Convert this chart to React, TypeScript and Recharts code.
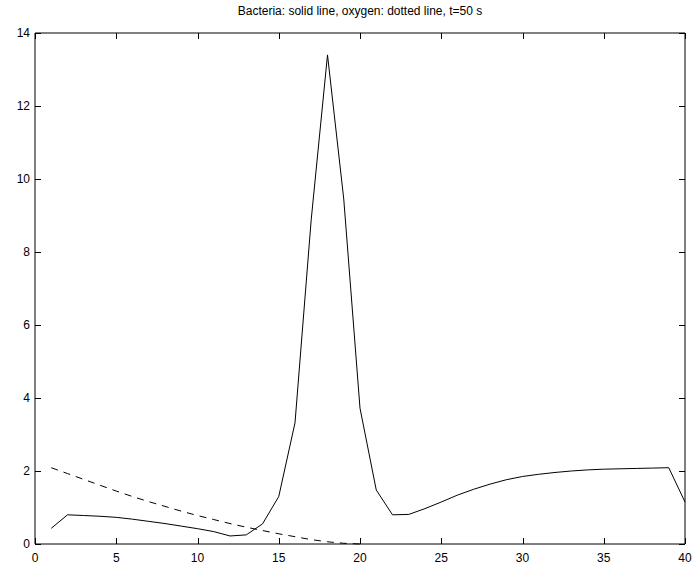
import React, { useLayoutEffect } from "react";
import { LineChart, Line, XAxis, YAxis, ReferenceLine } from "recharts";

const positions = [
  1, 2, 3, 4, 5, 6, 7, 8, 9, 10, 11, 12, 13, 14, 15, 16, 17, 18, 19, 20,
  21, 22, 23, 24, 25, 26, 27, 28, 29, 30, 31, 32, 33, 34, 35, 36, 37, 38, 39, 40,
];
const bacteria = [
  0.43, 0.8, 0.78, 0.76, 0.73, 0.68, 0.62, 0.56, 0.49, 0.42, 0.34, 0.22, 0.25,
  0.55, 1.3, 3.32, 8.9, 13.4, 9.45, 3.72, 1.48, 0.8, 0.81, 0.97, 1.15, 1.34,
  1.5, 1.64, 1.76, 1.85, 1.91, 1.96, 2.0, 2.03, 2.05, 2.06, 2.07, 2.08, 2.09,
  1.15,
];
const oxygen = [
  2.09, 1.93, 1.77, 1.61, 1.45, 1.3, 1.16, 1.03, 0.9, 0.78, 0.67, 0.56, 0.46,
  0.37, 0.28, 0.2, 0.12, 0.06, 0.02, 0.0,
];
const xTicks = [0, 5, 10, 15, 20, 25, 30, 35, 40];
const yTicks = [0, 2, 4, 6, 8, 10, 12, 14];
const title = "Bacteria: solid line, oxygen: dotted line, t=50 s";

const data = positions.map((x, i) => ({
  x,
  bacteria: bacteria[i],
  oxygen: i < oxygen.length ? oxygen[i] : undefined,
}));

const FONT = "Liberation Sans, Arial, sans-serif";
const TICK = 6;

const bottomLabel = (p: any) => (
  <text key={`b${p.index}`} x={p.x} y={p.y + 18} textAnchor="middle" fontSize={12} fontFamily={FONT} fill="#000">
    {p.payload.value}
  </text>
);
const leftLabel = (p: any) => (
  <text key={`l${p.index}`} x={p.x - 5} y={p.y} dy="0.36em" textAnchor="end" fontSize={12} fontFamily={FONT} fill="#000">
    {p.payload.value}
  </text>
);

// Short inward tick marks at both ends of a vertical reference line
const vTicks = (p: any) => {
  const x = Math.round(p.x1) + 0.5;
  const top = Math.min(p.y1, p.y2);
  const bot = Math.max(p.y1, p.y2);
  return (
    <g>
      <line x1={x} x2={x} y1={top} y2={top + TICK} stroke="#000" strokeWidth={1} />
      <line x1={x} x2={x} y1={bot} y2={bot - TICK} stroke="#000" strokeWidth={1} />
    </g>
  );
};
// Short inward tick marks at both ends of a horizontal reference line
const hTicks = (p: any) => {
  const y = Math.round(p.y1) + 0.5;
  const left = Math.min(p.x1, p.x2);
  const right = Math.max(p.x1, p.x2);
  return (
    <g>
      <line x1={left} x2={left + TICK} y1={y} y2={y} stroke="#000" strokeWidth={1} />
      <line x1={right} x2={right - TICK} y1={y} y2={y} stroke="#000" strokeWidth={1} />
    </g>
  );
};

const axisLine = { stroke: "#000", strokeWidth: 1 };

export default function App() {
  useLayoutEffect(() => {
    document.body.style.margin = "0";
    document.body.style.overflow = "hidden";
  }, []);
  return (
    <div style={{ position: "relative", width: 695, height: 567 }}>
      <div
        style={{
          position: "absolute",
          left: 35,
          width: 650,
          top: 4,
          textAlign: "center",
          fontFamily: FONT,
          fontSize: 12,
          lineHeight: "14px",
          color: "#000",
        }}
      >
        {title}
      </div>
      <LineChart
        width={695}
        height={567}
        data={data}
        margin={{ top: 32, right: 9, bottom: 0, left: 0 }}
        style={{ overflow: "visible" }}
      >
        <XAxis
          dataKey="x"
          type="number"
          domain={[0, 40]}
          ticks={xTicks}
          height={23}
          tickSize={0}
          tickMargin={0}
          tickLine={false}
          axisLine={axisLine}
          tick={bottomLabel}
          interval={0}
        />
        <XAxis
          xAxisId="top"
          dataKey="x"
          type="number"
          orientation="top"
          domain={[0, 40]}
          ticks={xTicks}
          height={1}
          tickLine={false}
          axisLine={axisLine}
          tick={false}
        />
        <YAxis
          type="number"
          domain={[0, 14]}
          ticks={yTicks}
          width={35}
          tickSize={0}
          tickMargin={0}
          tickLine={false}
          axisLine={axisLine}
          tick={leftLabel}
          interval={0}
        />
        <YAxis
          yAxisId="right"
          type="number"
          orientation="right"
          domain={[0, 14]}
          ticks={yTicks}
          width={1}
          tickLine={false}
          axisLine={axisLine}
          tick={false}
        />
        {xTicks.map((t) => (
          <ReferenceLine key={`vx${t}`} x={t} stroke="#000" shape={vTicks} ifOverflow="visible" />
        ))}
        {yTicks.map((t) => (
          <ReferenceLine key={`hy${t}`} y={t} stroke="#000" shape={hTicks} ifOverflow="visible" />
        ))}
        <Line
          type="linear"
          dataKey="bacteria"
          stroke="#000"
          strokeWidth={1}
          dot={false}
          isAnimationActive={false}
        />
        <Line
          type="linear"
          dataKey="oxygen"
          stroke="#000"
          strokeWidth={1}
          strokeDasharray="7 6"
          dot={false}
          isAnimationActive={false}
        />
      </LineChart>
    </div>
  );
}
